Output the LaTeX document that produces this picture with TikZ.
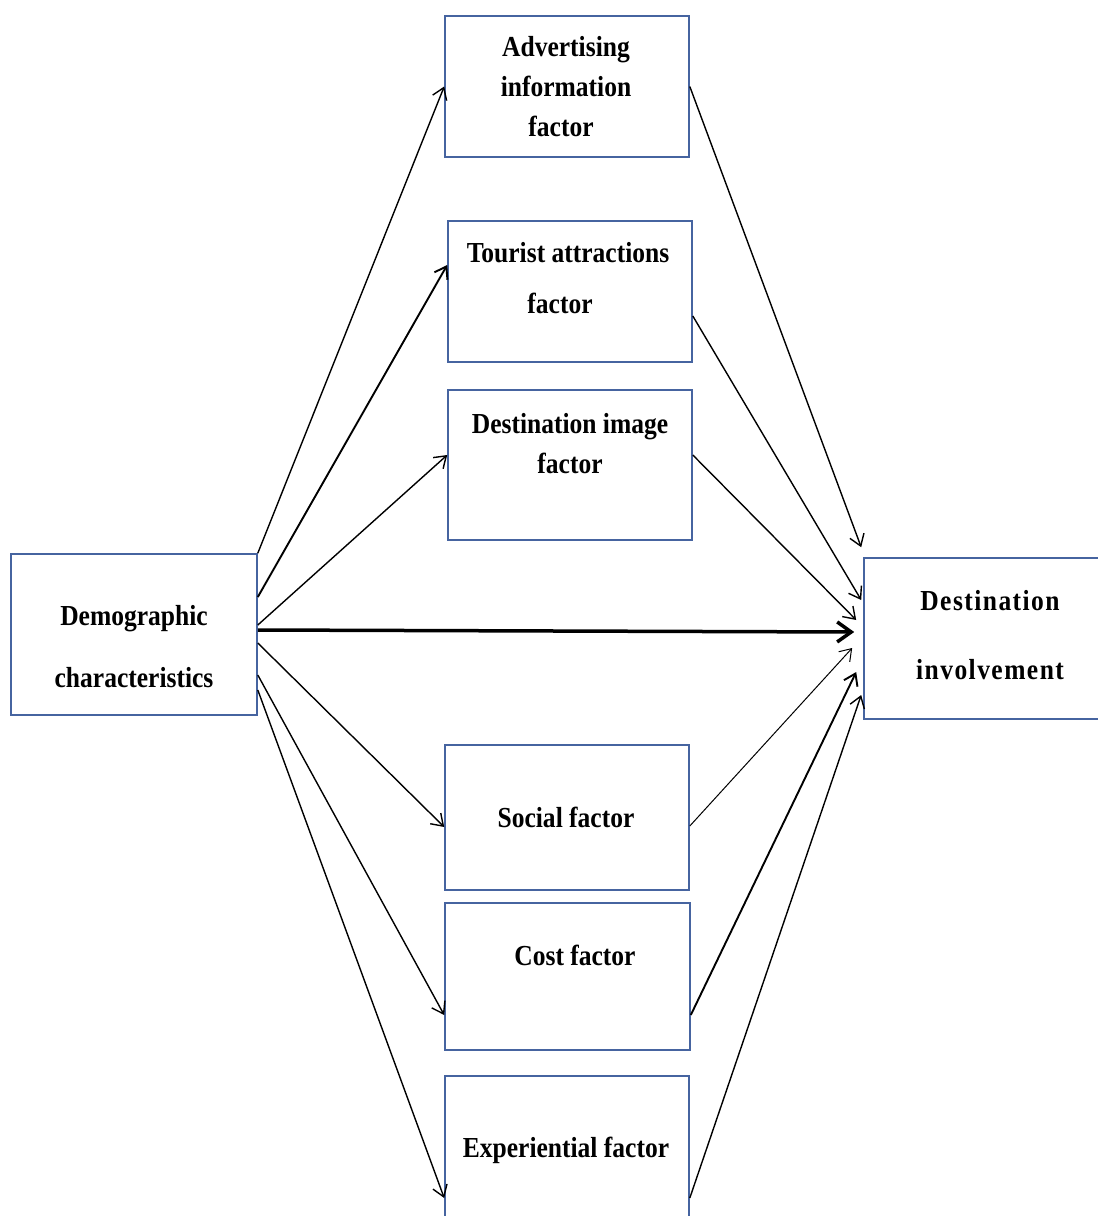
\documentclass[tikz,border=0pt]{standalone}
\usepackage{fontspec}
\newfontfamily\boxfont{Liberation Serif}[FakeStretch=0.88]
\newfontfamily\widefont{Liberation Serif}[FakeStretch=0.88,LetterSpace=5]
\usetikzlibrary{arrows.meta}
\definecolor{boxblue}{RGB}{70,100,160}

\begin{document}
\begin{tikzpicture}[x=1pt,y=-1pt,>={Straight Barb[length=11pt,width=15pt]}]
          \tikzstyle{box}=[draw=boxblue,line width=1.6pt,minimum width=244pt,inner sep=0pt]
          \tikzstyle{txt}=[font=\boxfont\bfseries\fontsize{29}{40}\selectfont,align=center,inner sep=0pt]
          \tikzstyle{link}=[->,line width=1.4pt]
          \useasboundingbox (0,0) rectangle (1098,1216);
          \node[box,minimum width=246pt,minimum height=161pt] (demo) at (134,634.5) {};
          \node[box,minimum width=240pt,minimum height=161pt] (dest) at (984,638.5) {};
          \node[box,minimum height=141pt] (adv) at (567,86.5) {};
          \node[box,minimum height=141pt] (tour) at (570,291.5) {};
          \node[box,minimum height=150pt] (img) at (570,465) {};
          \node[box,minimum height=145pt] (soc) at (567,817.5) {};
          \node[box,minimum width=245pt,minimum height=147pt] (cost) at (567.5,976.5) {};
          \node[box,minimum height=150pt] (exp) at (567,1151) {};
          \node[txt] (demoT) at (134,647) {Demographic\\[22pt]characteristics};
          \node[txt,font=\widefont\bfseries\fontsize{29}{40}\selectfont] (destT) at (990,635.5) {Destination\\[29pt]involvement};
          \node[txt] (advT) at (566,87) {Advertising\\information\\factor\hspace*{10pt}};
          \node[txt] (tourT) at (568,278.5) {Tourist attractions\\[11pt]factor\hspace*{16pt}};
          \node[txt] (imgT) at (570,444) {Destination image\\factor};
          \node[txt] (socT) at (566,817) {Social factor};
          \node[txt] (costT) at (575,955) {Cost factor};
          \node[txt] (expT) at (566,1150) {Experiential factor};
          \draw[link] (demo.north east) -- (adv.west);
          \draw[link,line width=1.9pt] ([yshift=37.5pt]demo.east) -- ([yshift=26.5pt]tour.west);
          \draw[link] ([yshift=9.5pt]demo.east) -- ([yshift=10pt]img.west);
          \draw[->,line width=3.5pt,-{Straight Barb[length=14pt,width=20pt]}] ([yshift=4.5pt]demo.east) -- ([xshift=-9pt,yshift=6.5pt]dest.west);
          \draw[link] ([yshift=-8.5pt]demo.east) -- ([yshift=-9.5pt]soc.west);
          \draw[link] ([yshift=-40.5pt]demo.east) -- ([yshift=-38.5pt]cost.west);
          \draw[link] ([yshift=-55.5pt]demo.east) -- ([yshift=-47pt]exp.west);
          \draw[link] (adv.east) -- ([xshift=-2pt,yshift=10pt]dest.north west);
          \draw[link] ([yshift=-24.5pt]tour.east) -- ([xshift=-2pt,yshift=38.5pt]dest.west);
          \draw[link] ([yshift=10pt]img.east) -- ([xshift=-7pt,yshift=18.5pt]dest.west);
          \draw[link,line width=1pt] ([yshift=-8.5pt]soc.east) -- ([xshift=-11pt,yshift=-9.5pt]dest.west);
          \draw[link,line width=1.9pt] ([yshift=-38.5pt]cost.east) -- ([xshift=-7pt,yshift=-33.5pt]dest.west);
          \draw[link] ([yshift=-47pt]exp.east) -- ([xshift=-2pt,yshift=-56.5pt]dest.west);
      \end{tikzpicture}
\end{document}
